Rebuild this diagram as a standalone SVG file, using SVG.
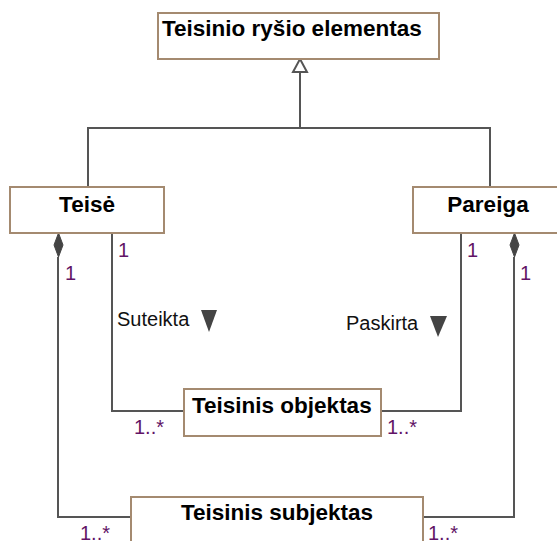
<svg xmlns="http://www.w3.org/2000/svg" width="557" height="541" viewBox="0 0 557 541">
<style>
.box{fill:#fff;stroke:#a48a70;stroke-width:2}
.cn{fill:none;stroke:#555;stroke-width:2}
.t{font-family:"Liberation Sans",Arial,sans-serif;font-weight:bold;font-size:22.5px;fill:#000}
.l{font-family:"Liberation Sans",Arial,sans-serif;font-size:20px;fill:#111}
.m{font-family:"Liberation Sans",Arial,sans-serif;font-size:20px;fill:#621466}
.dir{fill:#444}
.dia{fill:#444;stroke:#444;stroke-width:1}
</style>
<rect width="557" height="541" fill="#fff"/>
<g id="connectors">
<polyline class="cn" points="88,187 88,128 490,128 490,187"/>
<line class="cn" x1="300" y1="128" x2="300" y2="72"/>
<polygon points="300,59 307,72 293,72" fill="#fff" stroke="#555" stroke-width="2"/>
<polyline class="cn" points="112,233 112,411 184,411"/>
<polyline class="cn" points="461,233 461,411 381,411"/>
<polyline class="cn" points="58,257 58,517 131,517"/>
<polyline class="cn" points="514,257 514,517 423,517"/>
<polygon class="dia" points="58.5,233 63,245 58.5,257 54,245"/>
<polygon class="dia" points="514.5,233 519,245 514.5,257 510,245"/>
<text class="m" x="118" y="257">1</text>
<text class="m" x="65" y="280">1</text>
<text class="m" x="467" y="257">1</text>
<text class="m" x="520" y="280">1</text>
<text class="m" x="134" y="434">1..*</text>
<text class="m" x="387" y="434">1..*</text>
<text class="m" x="80" y="540">1..*</text>
<text class="m" x="428" y="540">1..*</text>
<text class="l" x="117" y="326">Suteikta</text>
<polygon class="dir" points="201,310 217,310 209,332"/>
<text class="l" x="346" y="330">Paskirta</text>
<polygon class="dir" points="430,316 447,316 438,337"/>
</g>
<g id="teisinio-rysio-elementas">
<rect class="box" x="158" y="13" width="281" height="46"/>
<text class="t" x="162" y="36">Teisinio ryšio elementas</text>
</g>
<g id="teise">
<rect class="box" x="10" y="187" width="154" height="46"/>
<text class="t" x="87" y="212" text-anchor="middle">Teisė</text>
</g>
<g id="pareiga">
<rect class="box" x="413" y="187" width="152" height="46"/>
<text class="t" x="488" y="212" text-anchor="middle">Pareiga</text>
</g>
<g id="teisinis-objektas">
<rect class="box" x="184" y="389" width="197" height="47"/>
<text class="t" x="192" y="413">Teisinis objektas</text>
</g>
<g id="teisinis-subjektas">
<rect class="box" x="131" y="497" width="292" height="60"/>
<text class="t" x="277" y="520" text-anchor="middle">Teisinis subjektas</text>
</g>
</svg>
